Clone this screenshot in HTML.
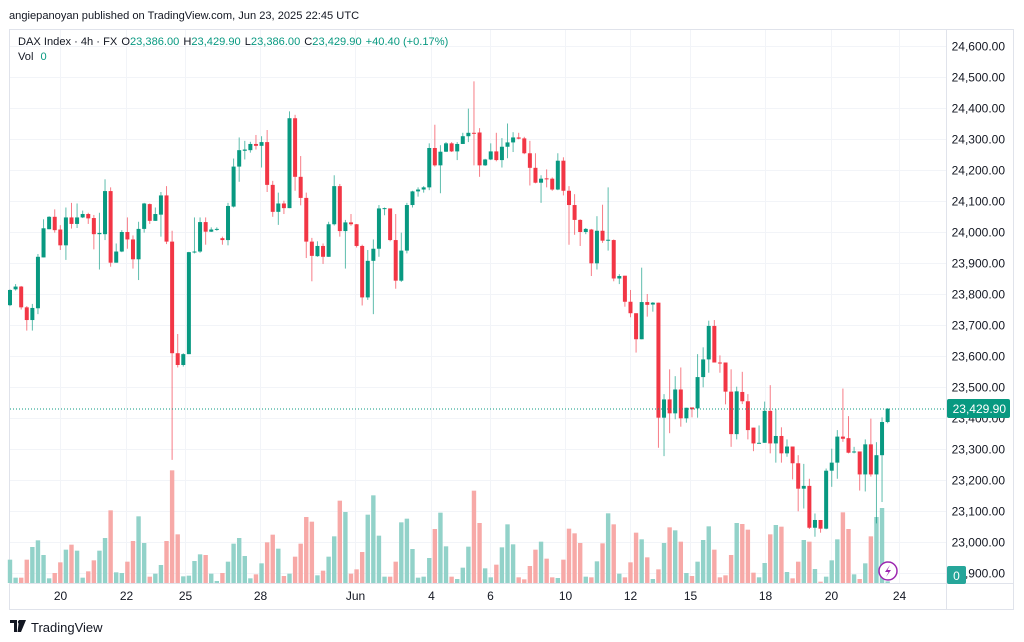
<!DOCTYPE html>
<html><head><meta charset="utf-8"><style>
body{margin:0;background:#fff;font-family:"Liberation Sans",sans-serif;}
#wrap{position:relative;width:1024px;height:642px;overflow:hidden;background:#fff;}
svg text{font-family:"Liberation Sans",sans-serif;}
</style></head><body>
<div id="wrap">
<svg id="chart" width="1024" height="642">
<text x="9" y="19" font-size="11.1" fill="#131722">angiepanoyan published on TradingView.com, Jun 23, 2025 22:45 UTC</text>
<rect x="9.5" y="29.5" width="1004" height="580" fill="none" stroke="#e0e3eb"/>
<g id="grid"></g>
<g id="vols"></g>
<g id="candles"></g>
<line x1="10" x2="946" y1="409" y2="409" stroke="#089981" stroke-dasharray="1,2"/>
<line x1="946.5" x2="946.5" y1="30" y2="609" stroke="#e0e3eb"/>
<line x1="10" x2="1014" y1="583.5" y2="583.5" stroke="#e0e3eb"/>
<g id="yaxis"></g>
<g id="xaxis"></g>
<rect x="947" y="399" width="63" height="19" rx="2" fill="#089981"/>
<text x="1006" y="413" font-size="12" fill="#fff" text-anchor="end">23,429.90</text>
<rect x="947" y="566" width="19" height="18" rx="2" fill="#26a69a"/>
<text x="956.5" y="580" font-size="12" fill="#fff" text-anchor="middle">0</text>
<text x="18" y="45" font-size="11.1" fill="#131722">DAX Index · 4h · FX <tspan dx="1">O</tspan><tspan fill="#089981">23,386.00</tspan><tspan dx="4">H</tspan><tspan fill="#089981">23,429.90</tspan><tspan dx="4">L</tspan><tspan fill="#089981">23,386.00</tspan><tspan dx="4">C</tspan><tspan fill="#089981">23,429.90</tspan><tspan dx="4" fill="#089981">+40.40 (+0.17%)</tspan></text>
<text x="18" y="60" font-size="11.1" fill="#131722">Vol <tspan dx="4" fill="#089981">0</tspan></text>
<g><circle cx="888" cy="571" r="9" fill="#fff" stroke="#9c27b0" stroke-width="1.5"/><path d="M890 565 L885 572 L888.5 572 L886 577 L891 570 L887.5 570 Z" fill="#9c27b0"/></g>
<g><path d="M10 620 H17 V632 H14 V623 H10 Z M19 620 H26 L21 632 H17.5 Z" fill="#131722"/><circle cx="19.5" cy="622" r="1.6" fill="#131722"/>
<text x="31" y="632" font-size="13" fill="#131722">TradingView</text></g>
</svg>
</div>
<script>
const opens=[23764,23815,23824,23757,23716,23754,23918,24009,24049,24008,23957,24047,24026,24047,24058,24045,23993,23993,24132,23901,23937,24000,23976,23912,24010,24090,24036,24056,24118,23969,23609,23571,23606,23935,23937,24032,24001,24008,23980,23974,24082,24211,24262,24264,24284,24278,24290,24152,24065,24092,24077,24367,24178,24110,23969,23922,23955,23920,24025,24148,24003,24031,24025,23955,23789,23907,23946,24076,24076,23974,23843,23940,24087,24131,24137,24144,24271,24215,24259,24286,24260,24284,24309,24320,24321,24215,24234,24260,24232,24275,24289,24305,24302,24254,24207,24159,24173,24172,24137,24230,24133,24087,24039,24000,24008,23899,24004,23972,23974,23850,23859,23775,23738,23654,23774,23766,23772,23401,23460,23415,23492,23399,23434,23431,23532,23589,23697,23579,23579,23485,23348,23484,23454,23369,23318,23320,23423,23318,23342,23286,23308,23254,23172,23181,23046,23071,23043,23230,23256,23340,23335,23290,23292,23218,23315,23218,23280,23387];
const highs=[23815,23832,23826,23761,23768,23929,24041,24051,24073,24022,24079,24094,24092,24069,24062,24055,24062,24170,24144,23963,24006,24047,23989,24033,24094,24092,24079,24129,24148,24004,23671,23609,23936,24047,24047,24047,24015,24015,23985,24094,24237,24305,24294,24291,24313,24309,24329,24165,24127,24101,24389,24378,24245,24127,23981,23970,23963,24033,24183,24155,24039,24058,24026,23959,23942,23976,24087,24079,24076,24058,23998,24094,24133,24144,24148,24286,24346,24280,24290,24290,24290,24320,24398,24486,24335,24236,24286,24320,24303,24350,24322,24320,24307,24294,24254,24183,24202,24176,24254,24241,24148,24122,24041,24013,24010,24051,24088,24144,23976,23864,23859,23813,23738,23885,23800,23774,23772,23477,23557,23535,23563,23433,23434,23606,23628,23714,23716,23602,23579,23557,23501,23549,23477,23369,23376,23453,23506,23428,23370,23331,23308,23280,23252,23204,23092,23071,23237,23301,23361,23495,23406,23307,23292,23331,23398,23322,23402,23432];
const lows=[23761,23811,23750,23682,23682,23735,23918,24009,23998,23942,23910,24011,24013,24045,24026,23944,23879,23974,23888,23901,23935,23946,23882,23845,23998,24026,24036,23985,23961,23265,23563,23566,23606,23931,23933,23959,24000,24004,23959,23957,24079,24162,24234,24256,24266,24208,24129,24049,24023,24058,24077,24133,24086,23916,23841,23920,23897,23920,24021,23985,23882,24020,23950,23763,23781,23735,23920,24054,23970,23817,23839,23931,24079,24114,24127,24135,24211,24125,24258,24258,24232,24284,24290,24215,24178,24213,24232,24228,24208,24238,24258,24299,24251,24150,24157,24094,24144,24133,24135,24118,23959,23991,23955,23993,23858,23879,23965,23940,23841,23832,23759,23725,23611,23654,23727,23743,23304,23277,23351,23396,23372,23385,23402,23401,23499,23546,23579,23546,23444,23307,23331,23445,23331,23293,23318,23320,23286,23256,23256,23275,23202,23099,23108,23042,23017,23030,23041,23178,23204,23323,23286,23286,23166,23163,23211,23060,23129,23383];
const closes=[23813,23824,23757,23716,23755,23920,24012,24049,24006,23957,24047,24026,24047,24058,24044,23993,23997,24132,23901,23937,24000,23976,23912,24010,24092,24036,24058,24118,23969,23609,23571,23606,23935,23937,24032,24001,24008,24010,23974,24084,24211,24264,24266,24284,24278,24290,24152,24065,24092,24077,24367,24178,24110,23969,23923,23955,23920,24025,24148,24003,24031,24025,23955,23789,23907,23946,24076,24077,23974,23843,23940,24087,24131,24137,24144,24271,24215,24259,24286,24260,24284,24309,24320,24318,24215,24234,24260,24232,24275,24289,24305,24301,24254,24207,24159,24172,24171,24137,24230,24133,24087,24039,24000,24010,23899,24004,23972,23975,23850,23858,23775,23738,23654,23774,23765,23772,23401,23460,23415,23492,23399,23433,23428,23532,23589,23697,23579,23577,23485,23348,23486,23454,23361,23318,23320,23423,23318,23342,23286,23308,23254,23172,23181,23046,23071,23043,23230,23256,23340,23333,23288,23292,23218,23315,23218,23280,23387,23430];
const volumes=[70,16,16,70,108,128,84,14,30,62,100,115,97,16,35,68,97,135,218,32,30,64,126,200,120,19,28,54,126,338,146,20,22,66,86,84,28,6,30,64,118,135,81,14,26,59,122,145,103,21,28,79,118,198,184,23,37,79,140,247,213,28,41,93,205,263,142,19,19,64,182,193,102,16,19,75,162,211,110,19,12,46,109,277,180,44,17,55,107,176,116,17,11,51,100,124,73,17,15,70,163,149,120,19,17,65,119,209,176,28,17,62,151,131,77,12,41,120,167,158,124,30,21,64,129,170,100,17,23,84,180,177,160,31,17,60,146,174,169,33,14,64,129,124,42,4,19,68,131,212,162,26,12,59,140,198,225,5];
const priceTicks=[24600,24500,24400,24300,24200,24100,24000,23900,23800,23700,23600,23500,23400,23300,23200,23100,23000,22900];
const timeLabels=["20","22","25","28","Jun","4","6","10","12","15","18","20","24"];
const timeTickIdx=[8.9,20.8,31.3,44.7,61.7,75.3,85.9,99.3,110.9,121.7,135.1,146.9,159];

const NS="http://www.w3.org/2000/svg";
function yScale(p){return 46+(24600-p)*0.31;}
function xScale(i){return 10+i*5.59;}
function vScale(v){return v/3;}
function mk(tag,attrs,parent){const e=document.createElementNS(NS,tag);for(const k in attrs)e.setAttribute(k,attrs[k]);parent.appendChild(e);return e;}
const grid=document.getElementById('grid'),yaxis=document.getElementById('yaxis'),xaxis=document.getElementById('xaxis');
priceTicks.forEach(p=>{
  const y=Math.round(yScale(p))+0.5;
  const l=mk('line',{x1:10,x2:946,y1:y,y2:y,stroke:'#f2f4f8'},grid);
  
  
  const t=mk('text',{x:1005,y:y+4,'font-size':12,fill:'#131722','text-anchor':'end'},yaxis);
  t.textContent=p.toLocaleString('en-US',{minimumFractionDigits:2});
  
  
});
timeLabels.forEach((s,k)=>{
  const x=Math.round(xScale(timeTickIdx[k]))+0.5;
  const l=mk('line',{x1:x,x2:x,y1:30,y2:583,stroke:'#f2f4f8'},grid);
  
  
  const t=mk('text',{x:x,y:600,'font-size':12,fill:'#131722','text-anchor':'middle'},xaxis);
  t.textContent=s;
  
  
});
const vg=document.getElementById('vols'),cg=document.getElementById('candles');
closes.forEach((c,i)=>{
  const up=c>=opens[i];
  const x=xScale(i);
  const h=Math.max(1,vScale(volumes[i]));
  const vb=mk('rect',{x:x-2.2,y:583-h,width:4.4,height:h,fill:up?'#92d2c9':'#f7a9a7'},vg);
  
  
  const col=up?'#089981':'#f23645';
  const w=mk('line',{x1:x,x2:x,y1:yScale(highs[i]),y2:yScale(lows[i]),stroke:col,'stroke-width':1,'stroke-opacity':0.65},cg);
  
  
  const top=yScale(Math.max(c,opens[i])),bot=yScale(Math.min(c,opens[i]));
  const b=mk('rect',{x:x-2,y:top,width:4,height:Math.max(1,bot-top),fill:col},cg);
  
  
});
</script>
</body></html>
